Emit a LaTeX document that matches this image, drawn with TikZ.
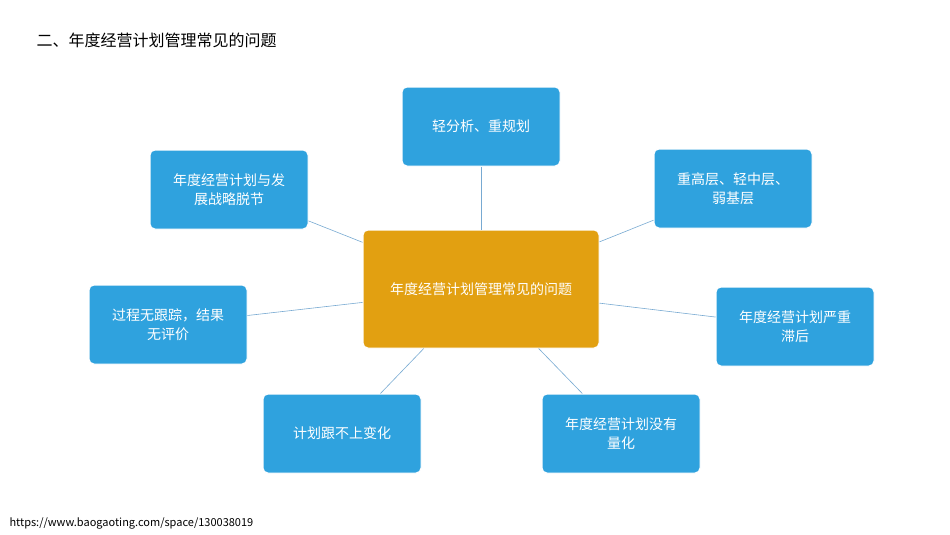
\documentclass[tikz,border=0pt]{standalone}
\usepackage{fontspec}
\setmainfont{Noto Sans CJK SC}
\begin{document}
\begin{tikzpicture}[x=1pt,y=-1pt,
  bbox/.style={draw=white,line width=1pt,fill=boxblue,rounded corners=5pt,text=white,
    minimum width=158pt,minimum height=79pt,text width=140pt,align=center,
    font=\fontsize{14}{19}\selectfont,inner sep=0pt},
  link/.style={draw=linkblue,line width=0.6pt}]
\definecolor{boxblue}{RGB}{47,162,222}
\definecolor{core}{RGB}{226,160,17}
\definecolor{linkblue}{RGB}{120,170,210}
\useasboundingbox[fill=white] (0,0) rectangle (950,535);
\node[text=black,anchor=west,font=\fontsize{16}{20}\selectfont] (title) at (33,40) {二、年度经营计划管理常见的问题};
\node[anchor=west,font=\fontsize{11}{13}\selectfont] (url) at (6,523) {https://www.baogaoting.com/space/130038019};
\node[bbox,fill=core,minimum width=236pt,minimum height=118pt,text width=220pt] (c) at (481,289) {年度经营计划管理常见的问题};
\node[bbox] (b1) at (481,126.5) {轻分析、重规划};
\node[bbox] (b2) at (229,189.5) {年度经营计划与发\\展战略脱节};
\node[bbox] (b3) at (733,188.5) {重高层、轻中层、\\弱基层};
\node[bbox] (b4) at (168,324.5) {过程无跟踪，结果\\无评价};
\node[bbox] (b5) at (795,326.5) {年度经营计划严重\\滞后};
\node[bbox] (b6) at (342,433.5) {计划跟不上变化};
\node[bbox] (b7) at (621,433.5) {年度经营计划没有\\量化};
\foreach \b in {b1,b2,b3,b4,b5,b6,b7} \draw[link] (c) -- (\b);
\end{tikzpicture}
\end{document}
